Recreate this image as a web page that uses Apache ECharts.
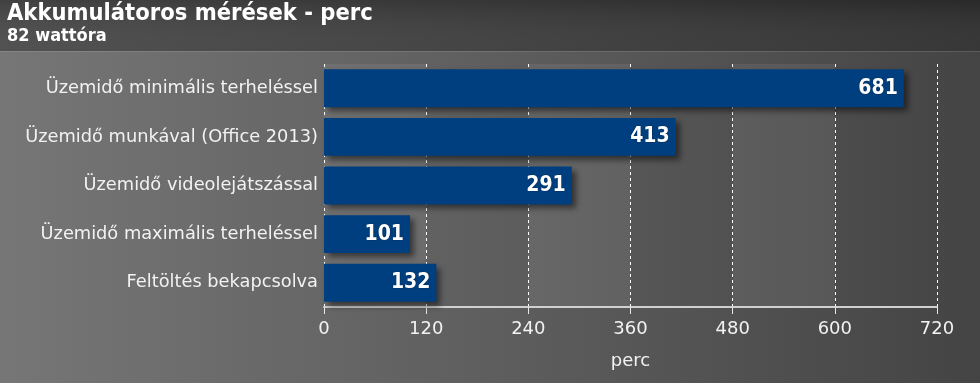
<!DOCTYPE html>
<html>
<head>
<meta charset="utf-8">
<script src="https://cdn.jsdelivr.net/npm/echarts@6/dist/echarts.min.js"></script>
<style>
html,body{margin:0;padding:0;background:#555;}
#chart{width:980px;height:383px;}
</style>
</head>
<body>
<div id="chart"></div>
<script>
var titleText = 'Akkumulátoros mérések - perc';
var subtitleText = '82 wattóra';
var categories = ['Üzemidő minimális terheléssel', 'Üzemidő munkával (Office 2013)', 'Üzemidő videolejátszással', 'Üzemidő maximális terheléssel', 'Feltöltés bekapcsolva'];
var values = [681, 413, 291, 101, 132];
var axisName = 'perc';
var xMin = 0, xMax = 720, xInterval = 120;

var chart = echarts.init(document.getElementById('chart'), null, {renderer: 'canvas'});
var font = 'Tahoma, "DejaVu Sans", Verdana, sans-serif';
var condFont = '"DejaVu Sans Condensed", "DejaVu Sans", sans-serif';
chart.setOption({
  backgroundColor: {
    type: 'linear', x: 0, y: 0, x2: 1, y2: 0,
    colorStops: [{offset: 0, color: '#767676'}, {offset: 0.5, color: '#5e5e5e'}, {offset: 1, color: '#444444'}]
  },
  graphic: [
    {type: 'rect', left: 0, top: 0, z: -1, shape: {width: 980, height: 51},
      style: {fill: {type: 'linear', x: 0, y: 0, x2: 1, y2: 0,
        colorStops: [{offset: 0, color: '#4a4a4a'}, {offset: 1, color: '#2f2f2f'}]}}},
    {type: 'rect', left: 0, top: 0, z: -1, shape: {width: 980, height: 51},
      style: {fill: {type: 'linear', x: 0, y: 0, x2: 0, y2: 1,
        colorStops: [{offset: 0, color: 'rgba(0,0,0,0.12)'}, {offset: 1, color: 'rgba(255,255,255,0.04)'}]}}},
    {type: 'rect', left: 0, top: 51, z: -1, shape: {width: 980, height: 1},
      style: {fill: 'rgba(255,255,255,0.12)'}},
    {type: 'text', left: 7, top: 2, style: {text: titleText, fill: '#ffffff', font: 'bold 23.5px ' + condFont}},
    {type: 'text', left: 7, top: 27, style: {text: subtitleText, fill: '#ffffff', font: 'bold 18px ' + condFont}}
  ],
  grid: {left: 324, right: 43, top: 64, bottom: 76},
  xAxis: {
    type: 'value', min: xMin, max: xMax, interval: xInterval,
    name: axisName, nameLocation: 'middle', nameGap: 45,
    nameTextStyle: {color: '#f2f2f2', fontSize: 18, fontFamily: font},
    axisLine: {show: true, lineStyle: {color: '#d0d0d0', width: 2}},
    axisTick: {show: true, length: 7, lineStyle: {color: '#e8e8e8'}},
    axisLabel: {color: '#f2f2f2', fontSize: 18, fontFamily: font, margin: 13},
    splitLine: {show: true, lineStyle: {color: '#ffffff', type: [3, 3], width: 1}},
    splitArea: {show: true, areaStyle: {color: ['rgba(255,255,255,0.07)', 'rgba(255,255,255,0)']}}
  },
  yAxis: {
    type: 'category', data: categories, inverse: true,
    axisLine: {show: false}, axisTick: {show: false},
    axisLabel: {color: '#f2f2f2', fontSize: 17.8, fontFamily: font, margin: 6}
  },
  series: [{
    type: 'bar', data: values, barCategoryGap: '22%',
    itemStyle: {color: '#003f7f', shadowColor: 'rgba(0,0,0,0.5)', shadowBlur: 6, shadowOffsetX: 4, shadowOffsetY: 4},
    label: {show: true, position: 'insideRight', distance: 6, color: '#ffffff',
      fontSize: 21, fontWeight: 'bold', fontFamily: condFont,
      textShadowColor: 'rgba(0,0,0,0.4)', textShadowBlur: 2}
  }],
  animation: false
});
</script>
</body>
</html>
